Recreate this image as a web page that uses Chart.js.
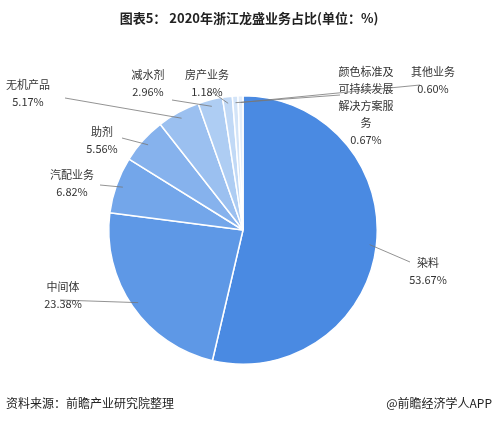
<!DOCTYPE html>
<html><head><meta charset="utf-8">
<script src="https://cdn.jsdelivr.net/npm/chart.js@4/dist/chart.umd.min.js"></script>
<style>html,body{margin:0;padding:0;background:#fff}#w{position:relative;width:498px;height:422px}</style>
</head><body><div id="w"><canvas id="c" width="498" height="422"></canvas></div>
<script>
const categories = ["染料","中间体","汽配业务","助剂","无机产品","减水剂","房产业务","颜色标准及可持续发展解决方案服务","其他业务"];
const values = [53.67,23.38,6.82,5.56,5.17,2.96,1.18,0.67,0.60];
const labelLines = [["染料","53.67%"],["中间体","23.38%"],["汽配业务","6.82%"],["助剂","5.56%"],["无机产品","5.17%"],["减水剂","2.96%"],["房产业务","1.18%"],["颜色标准及","可持续发展","解决方案服","务","0.67%"],["其他业务","0.60%"]];
const colors = ["#4a8ae2","#5e98e6","#73a6ea","#86b2ed","#9bc0f0","#aecdf3","#c1d9f6","#d3e4f8","#e2edfa"];
const labelPos = [[428,263],[63,287],[72,175],[102,132],[28,85],[148,75],[207,75],[366,72],[433,72]];
const lineEnd = [[410,262],[60,300],[100,185],[122,138],[65,98],[172,100],[212,92],[340,95],[420,85]];
const F = "'Noto Sans CJK SC','Noto Sans',sans-serif";
const labels = {id:'lbl', afterDatasetsDraw(ch){
  const ctx=ch.ctx, meta=ch.getDatasetMeta(0);
  ctx.save();
  meta.data.forEach((a,i)=>{
    const m=(a.startAngle+a.endAngle)/2;
    const sx=a.x+Math.cos(m)*a.outerRadius*0.95, sy=a.y+Math.sin(m)*a.outerRadius*0.95;
    ctx.strokeStyle='#777';ctx.lineWidth=0.8;ctx.beginPath();ctx.moveTo(sx,sy);ctx.lineTo(lineEnd[i][0],lineEnd[i][1]);ctx.stroke();
    ctx.fillStyle='#333';ctx.font='11px '+F;ctx.textAlign='center';ctx.textBaseline='middle';
    labelLines[i].forEach((t,k)=>ctx.fillText(t,labelPos[i][0],labelPos[i][1]+k*17));
  });
  ctx.font='bold 13px '+F;ctx.fillStyle='#222';ctx.textAlign='center';
  ctx.fillText('图表5： 2020年浙江龙盛业务占比(单位：%)',249,18);
  ctx.font='12px '+F;ctx.textAlign='left';ctx.fillText('资料来源：前瞻产业研究院整理',6,403);
  ctx.textAlign='right';ctx.fillText('@前瞻经济学人APP',492,403);
  ctx.restore();
}};
new Chart(document.getElementById('c'),{type:'pie',
 data:{labels:categories,datasets:[{data:values,backgroundColor:colors,borderColor:'#fff',borderWidth:1.5}]},
 options:{responsive:false,animation:false,layout:{padding:{top:95,bottom:57,left:108,right:120}},
  plugins:{legend:{display:false},tooltip:{enabled:false}}},plugins:[labels]});
</script></body></html>
